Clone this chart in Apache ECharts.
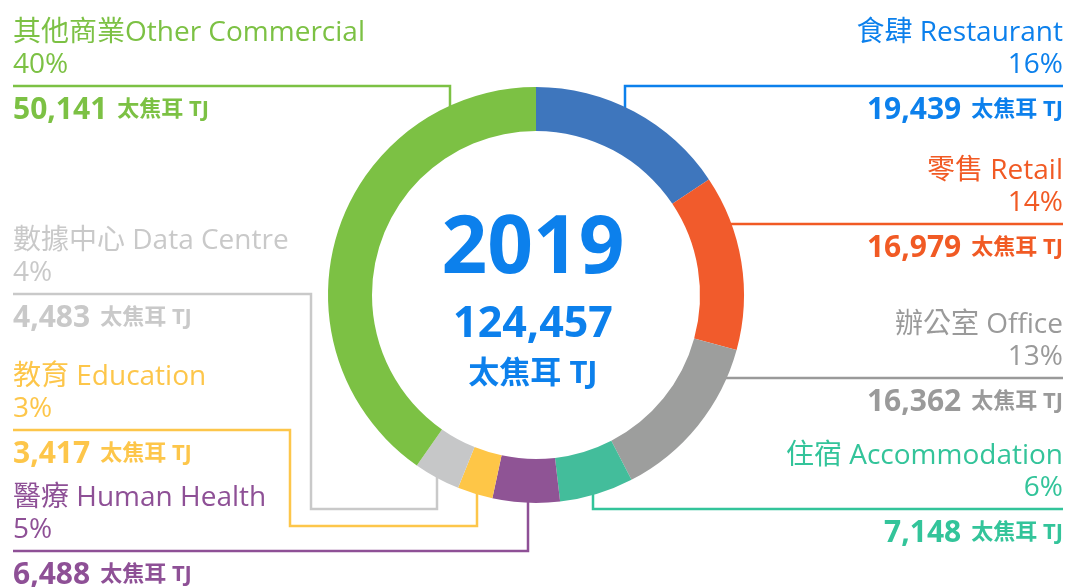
<!DOCTYPE html>
<html>
<head>
<meta charset="utf-8">
<script src="https://cdn.jsdelivr.net/npm/echarts@6/dist/echarts.min.js"></script>
<style>
  html, body { margin: 0; padding: 0; background: #ffffff; }
  #chart { width: 1067px; height: 587px; }
</style>
</head>
<body>
<div id="chart"></div>
<script>
// Commercial sector energy end-use, 2019 (TJ)
const year = '2019';
const unitLabel = '太焦耳 TJ';
const categoryLabels = [
  '食肆 Restaurant',
  '零售 Retail',
  '辦公室 Office',
  '住宿 Accommodation',
  '醫療 Human Health',
  '教育 Education',
  '數據中心 Data Centre',
  '其他商業Other Commercial'
];
const energyTJ = [19439, 16979, 16362, 7148, 6488, 3417, 4483, 50141];

// Colours: ring sectors and the matching label text
const sliceColors = ['#3e76bd', '#f15b2c', '#9d9e9d', '#43bd9b', '#8f5495', '#fec647', '#c6c7c8', '#7cc144'];
const textColors  = ['#0c80ec', '#f15a24', '#9a9a9a', '#33c49a', '#8e5096', '#fdc64a', '#c9c9c9', '#7cc144'];

// Ring geometry (px)
const CX = 536, CY = 295, R_IN = 164, R_OUT = 208, R_LINE = 187;
const TEXT_X = 533;
const EDGE_L = 13, EDGE_R = 1063;
const FONT = "'Open Sans', 'Noto Sans CJK TC', sans-serif";

// Leader routing for each sector's label
const leaders = [
  { side: 'right', lineY: 86,  stubX: 625 },
  { side: 'right', lineY: 224 },
  { side: 'right', lineY: 378 },
  { side: 'right', lineY: 509, stubX: 593 },
  { side: 'left',  lineY: 551, stubX: 528 },
  { side: 'left',  lineY: 430, stubX: 477, dropY: 526, elbowX: 290 },
  { side: 'left',  lineY: 294, stubX: 437, dropY: 509, elbowX: 311 },
  { side: 'left',  lineY: 86,  stubX: 450 }
];

const total = energyTJ.reduce((a, b) => a + b, 0);
const fmt = (v) => v.toLocaleString('en-US');

function leaderPoints(L) {
  const edge = L.side === 'right' ? EDGE_R : EDGE_L;
  if (L.stubX == null) {
    const dy = L.lineY - CY;
    const dx = Math.sqrt(R_LINE * R_LINE - dy * dy);
    const sx = L.side === 'right' ? CX + dx : CX - dx;
    return [[sx, L.lineY], [edge, L.lineY]];
  }
  const dx = L.stubX - CX;
  const dy = Math.sqrt(R_LINE * R_LINE - dx * dx);
  const down = (L.dropY != null ? L.dropY : L.lineY) > CY;
  const pts = [[L.stubX, down ? CY + dy : CY - dy]];
  if (L.dropY != null) {
    pts.push([L.stubX, L.dropY], [L.elbowX, L.dropY], [L.elbowX, L.lineY]);
  } else {
    pts.push([L.stubX, L.lineY]);
  }
  pts.push([edge, L.lineY]);
  return pts;
}

const chart = echarts.init(document.getElementById('chart'), null, { renderer: 'canvas' });

const option = {
  animation: false,
  backgroundColor: '#ffffff',
  textStyle: { fontFamily: FONT },
  graphic: [
    { type: 'text', x: TEXT_X, y: 250, style: { text: year, fill: '#0c80ec', font: "bold 80px " + FONT, textAlign: 'center', textVerticalAlign: 'middle' } },
    { type: 'text', x: TEXT_X, y: 325, style: { text: fmt(total), fill: '#0c80ec', font: "bold 43px " + FONT, textAlign: 'center', textVerticalAlign: 'middle' } },
    { type: 'text', x: TEXT_X, y: 374, style: { text: unitLabel, fill: '#0c80ec', font: "bold 31px " + FONT, textAlign: 'center', textVerticalAlign: 'middle' } }
  ],
  series: [{
    type: 'pie',
    center: [CX, CY],
    radius: [R_IN, R_OUT],
    startAngle: 90,
    clockwise: true,
    avoidLabelOverlap: false,
    silent: true,
    emphasis: { disabled: true },
    itemStyle: { borderWidth: 0 },
    label: {
      show: true,
      position: 'outside',
      fontFamily: FONT,
      formatter: function (p) {
        const pct = Math.round(p.value / total * 100) + '%';
        return '{n|' + p.name + '}\n{n|' + pct + '}\n{g| }\n{v|' + fmt(p.value) + '}{u|' + unitLabel + '}';
      },
      rich: {
        n: { fontSize: 28, lineHeight: 32, fontFamily: FONT },
        g: { fontSize: 8, lineHeight: 13, fontFamily: FONT },
        v: { fontSize: 30, lineHeight: 32, fontWeight: 'bold', fontFamily: FONT },
        u: { fontSize: 22, lineHeight: 32, fontWeight: 'bold', fontFamily: FONT, padding: [0, 0, 0, 10] }
      }
    },
    labelLine: { show: true, smooth: false, lineStyle: { width: 2.5 } },
    labelLayout: function (params) {
      const L = leaders[params.dataIndex];
      return {
        x: L.side === 'right' ? EDGE_R : EDGE_L,
        y: L.lineY - 69,
        align: L.side,
        verticalAlign: 'top',
        labelLinePoints: leaderPoints(L)
      };
    },
    data: energyTJ.map((v, i) => ({
      value: v,
      name: categoryLabels[i],
      itemStyle: { color: sliceColors[i] },
      label: { color: textColors[i] },
      labelLine: { lineStyle: { color: textColors[i] } }
    }))
  }]
};

chart.setOption(option);
</script>
</body>
</html>
